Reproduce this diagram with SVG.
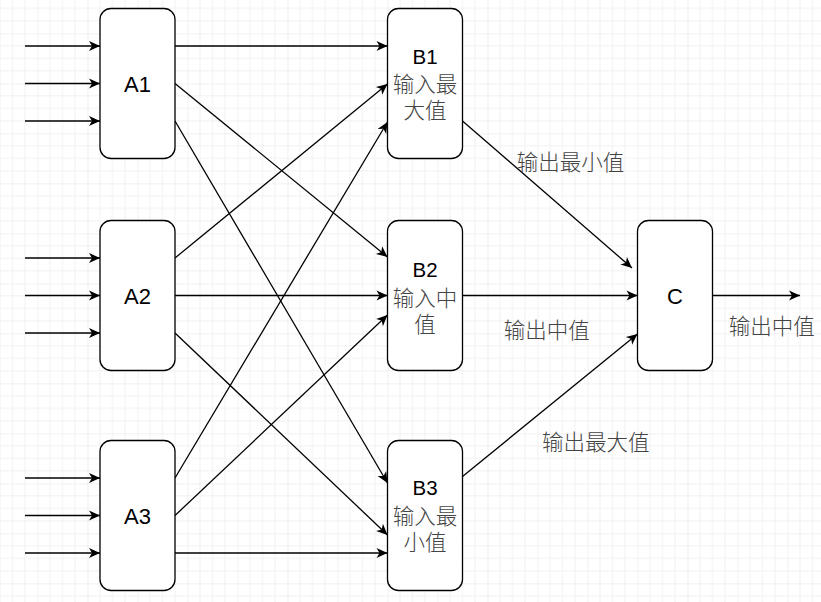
<svg xmlns="http://www.w3.org/2000/svg" width="821" height="602" viewBox="0 0 821 602">
<style>
.node{fill:#fff;stroke:#000;stroke-width:1.3}
.edge{fill:none;stroke:#000;stroke-width:1.3;marker-end:url(#arr)}
.lat{font-family:"Liberation Sans",Arial,sans-serif;fill:#000;text-anchor:middle}
.cjk{font-family:"Noto Sans CJK SC","Noto Sans",sans-serif;font-size:21.5px;font-weight:300;fill:#444;text-anchor:middle}
.bl{font-family:"Liberation Sans",Arial,sans-serif;font-size:20.5px;font-weight:400;fill:#000}
</style>
<defs>
<pattern id="grid" patternUnits="userSpaceOnUse" x="37.5" y="33.33" width="50" height="50">
<path d="M12.5,0V50M25,0V50M37.5,0V50M0,12.5H50M0,25H50M0,37.5H50" stroke="#f1f1f1" stroke-width="1" fill="none"/>
<path d="M0,0V50M0,0H50" stroke="#e3e3e3" stroke-width="1" fill="none"/>
</pattern>
<marker id="arr" markerUnits="userSpaceOnUse" markerWidth="12" markerHeight="10" refX="11" refY="5" orient="auto" overflow="visible">
<path d="M0,0 L11,5 L0,10 L3,5 Z" fill="#000"/>
</marker>
</defs>
<rect width="821" height="602" fill="#fff"/>
<rect width="821" height="602" fill="url(#grid)"/>
<g id="connectors">
<path class="edge" d="M25,46H100"/>
<path class="edge" d="M25,83.5H100"/>
<path class="edge" d="M25,121H100"/>
<path class="edge" d="M25,258H100"/>
<path class="edge" d="M25,295.5H100"/>
<path class="edge" d="M25,333H100"/>
<path class="edge" d="M25,478H100"/>
<path class="edge" d="M25,515.5H100"/>
<path class="edge" d="M25,553H100"/>
<path class="edge" d="M175,46H387.5"/>
<path class="edge" d="M175,83.5L387.5,257"/>
<path class="edge" d="M175,121L387.5,483"/>
<path class="edge" d="M175,258L387.5,84"/>
<path class="edge" d="M175,295.5H387.5"/>
<path class="edge" d="M175,333L387.5,535"/>
<path class="edge" d="M175,478L387.5,122"/>
<path class="edge" d="M175,515.5L387.5,315"/>
<path class="edge" d="M175,553H387.5"/>
<path class="edge" d="M462.5,121L632,268"/>
<path class="edge" d="M462.5,295.5H637.5"/>
<path class="edge" d="M462.5,476.5L637.5,334"/>
<path class="edge" d="M712.5,295.5H800"/>
</g>
<g id="labels">
<text class="cjk" x="570.5" y="170">输出最小值</text>
<text class="cjk" x="546.7" y="338">输出中值</text>
<text class="cjk" x="595.7" y="450">输出最大值</text>
<text class="cjk" x="771.7" y="334">输出中值</text>
</g>
<g id="A1"><rect class="node" x="100" y="8.5" width="75" height="150" rx="11"/><text class="lat" x="137.5" y="91.5" font-size="22">A1</text></g>
<g id="A2"><rect class="node" x="100" y="220.5" width="75" height="150" rx="11"/><text class="lat" x="137.5" y="303.5" font-size="22">A2</text></g>
<g id="A3"><rect class="node" x="100" y="440.5" width="75" height="150" rx="11"/><text class="lat" x="137.5" y="523.5" font-size="22">A3</text></g>
<g id="B1"><rect class="node" x="387.5" y="8.5" width="75" height="150" rx="11"/><text class="cjk"><tspan class="bl" x="425" y="64.3">B1</tspan><tspan x="425" y="92">输入最</tspan><tspan x="425" y="118">大值</tspan></text></g>
<g id="B2"><rect class="node" x="387.5" y="220.5" width="75" height="150" rx="11"/><text class="cjk"><tspan class="bl" x="425" y="276.7">B2</tspan><tspan x="425" y="305.5">输入中</tspan><tspan x="425" y="331.5">值</tspan></text></g>
<g id="B3"><rect class="node" x="387.5" y="440.5" width="75" height="150" rx="11"/><text class="cjk"><tspan class="bl" x="425" y="495">B3</tspan><tspan x="425" y="524">输入最</tspan><tspan x="425" y="550">小值</tspan></text></g>
<g id="C"><rect class="node" x="637.5" y="220.5" width="75" height="150" rx="11"/><text class="lat" x="675" y="303.5" font-size="22">C</text></g>
</svg>
